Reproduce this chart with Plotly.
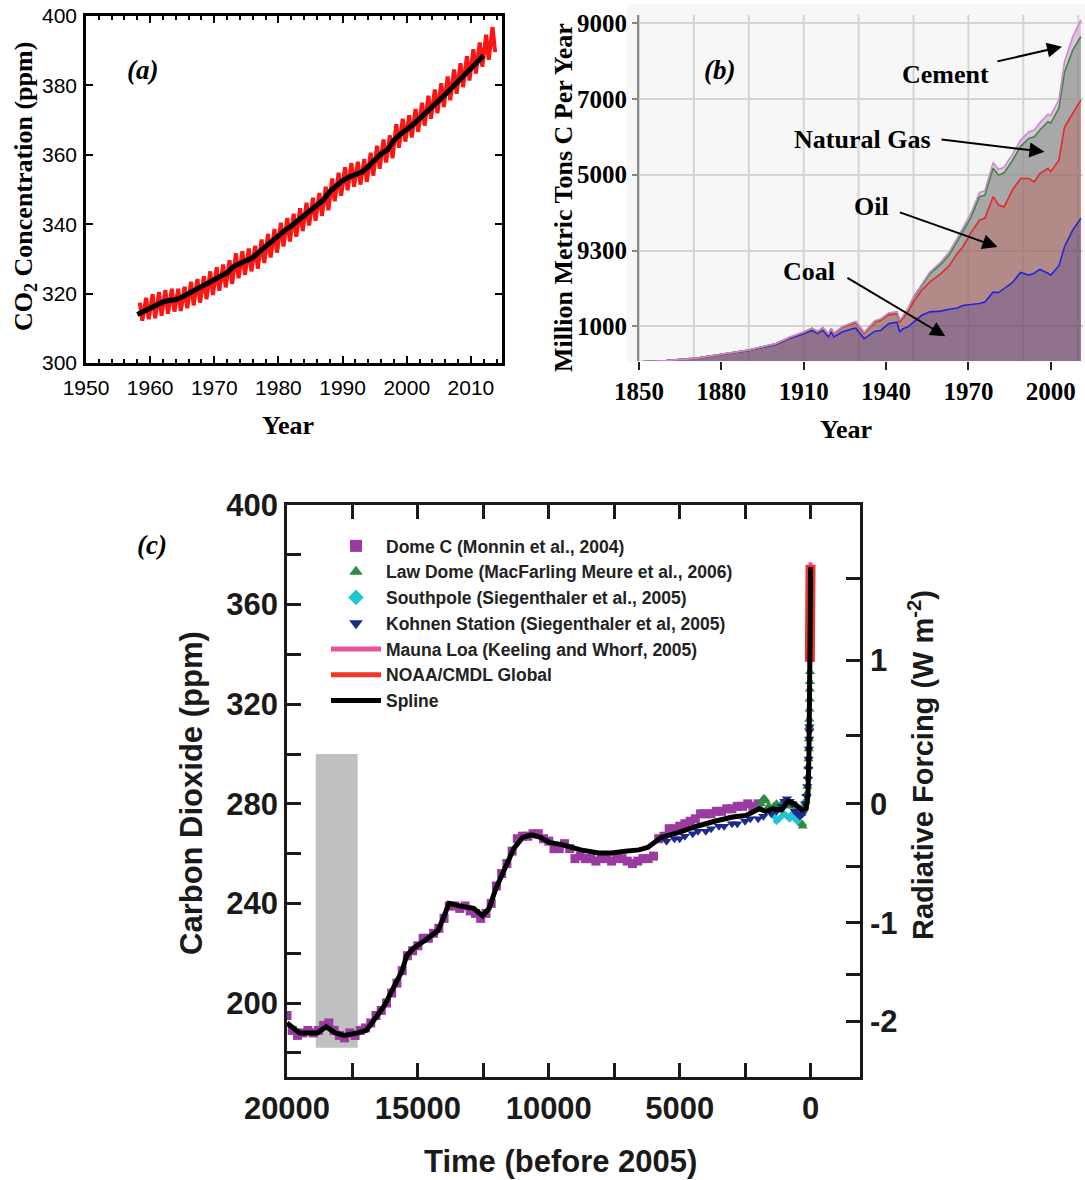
import math
import plotly.graph_objects as go

W, H = 1085, 1180

# ---------------- (a) Mauna Loa CO2 record ----------------
a_trend_years = list(range(1958, 2013))
a_trend_ppm = [314.0, 315.0, 316.0, 317.0, 317.6, 318.0, 318.3, 319.0, 320.0, 320.8,
               321.6, 322.8, 324.0, 325.0, 326.0, 327.8, 328.6, 329.5, 330.4, 332.0,
               333.6, 335.0, 336.8, 338.2, 339.5, 341.0, 342.6, 344.0, 345.4, 347.0,
               349.4, 351.0, 352.6, 353.6, 354.4, 355.0, 356.6, 358.5, 360.3, 361.4,
               364.2, 365.9, 367.1, 368.7, 370.4, 372.3, 373.9, 375.6, 377.4, 379.2,
               381.0, 382.8, 384.7, 386.6, 388.6]

a_cycle_years = list(range(1958, 2014))
a_cycle_peak = [317.4, 318.8, 319.8, 320.4, 321.0, 321.4, 321.4, 322.0, 323.4, 324.2,
                325.0, 326.4, 327.6, 328.4, 329.6, 331.6, 332.2, 333.0, 333.8, 335.6,
                337.2, 338.6, 340.4, 341.8, 343.0, 344.6, 346.2, 347.6, 349.0, 350.8,
                353.2, 354.8, 356.4, 357.6, 358.0, 358.8, 360.6, 362.6, 364.4, 365.6,
                368.8, 370.4, 371.4, 373.2, 375.0, 377.0, 378.8, 380.6, 382.6, 384.6,
                386.4, 388.4, 390.4, 392.4, 394.6, 396.8]
a_cycle_trough = [312.2, 312.6, 312.9, 313.6, 314.2, 314.8, 315.0, 315.8, 316.6, 317.4,
                  318.4, 319.6, 320.8, 321.8, 322.8, 324.4, 325.4, 326.4, 327.2, 328.8,
                  330.4, 331.8, 333.6, 335.0, 336.4, 338.0, 339.6, 341.0, 342.4, 344.0,
                  346.6, 348.2, 349.8, 350.8, 351.4, 352.2, 354.0, 356.0, 357.8, 359.0,
                  362.0, 363.8, 365.0, 366.6, 368.4, 370.4, 372.0, 373.8, 375.7, 377.6,
                  379.5, 381.4, 383.4, 385.4, 387.4, 389.6]
a_xticks = [1950, 1960, 1970, 1980, 1990, 2000, 2010]
a_yticks = [300, 320, 340, 360, 380, 400]

# ---------------- (b) fossil-fuel carbon emissions ----------------
b_years = [1850, 1860, 1870, 1880, 1890, 1900, 1905, 1910, 1913, 1915, 1917, 1919,
           1920, 1921, 1924, 1928, 1929, 1932, 1936, 1938, 1941, 1944, 1945, 1946,
           1948, 1950, 1953, 1956, 1960, 1963, 1966, 1968, 1971, 1974, 1976, 1979,
           1981, 1983, 1986, 1989, 1992, 1994, 1996, 1999, 2000, 2003, 2005, 2008, 2011]
b_coal = [60, 95, 150, 250, 360, 520, 680, 800, 890, 805, 890, 720,
          850, 720, 850, 940, 950, 675, 870, 890, 1070, 1110, 850, 930,
          985, 1110, 1290, 1380, 1400, 1450, 1480, 1550, 1580, 1600, 1640, 1900,
          1890, 2000, 2150, 2420, 2350, 2400, 2500, 2400, 2350, 2600, 3100, 3540, 3850]
b_oil = [0, 0, 1, 3, 10, 20, 25, 35, 45, 45, 55, 60,
         80, 80, 110, 130, 140, 135, 240, 260, 230, 220, 260, 260,
         395, 530, 660, 790, 990, 1150, 1450, 1550, 1900, 2200, 2210, 2520,
         2310, 2150, 2440, 2480, 2550, 2410, 2530, 2770, 2730, 2790, 3150, 3080, 3120]
b_gas = [0, 0, 0, 0, 2, 5, 8, 10, 12, 12, 14, 14,
         15, 15, 20, 25, 28, 25, 30, 32, 40, 45, 45, 50,
         80, 110, 120, 220, 250, 290, 320, 400, 410, 620, 610, 750,
         790, 900, 780, 850, 1060, 1190, 1150, 1230, 1280, 1370, 1450, 1670, 1680]
b_cement = [0, 0, 0, 0, 0, 1, 2, 3, 4, 4, 4, 4,
            5, 5, 6, 8, 8, 7, 9, 10, 12, 12, 10, 12,
            15, 30, 35, 45, 60, 70, 80, 90, 100, 110, 120, 150,
            150, 150, 160, 170, 170, 180, 190, 200, 200, 230, 280, 350, 440]
b_xticks = [1850, 1880, 1910, 1940, 1970, 2000]
b_grid_years = list(range(1850, 2012, 20))
b_yticks = [1000, 3000, 5000, 7000, 9000]
b_yticktext = ["1000", "9300", "5000", "7000", "9000"]

# label text + position, and arrow tail -> head, in (b) data units
b_labels = [("Cement", 1961.6, 7658), ("Natural Gas", 1931.5, 5932),
            ("Oil", 1934.6, 4152), ("Coal", 1912.1, 2435)]
b_arrows = [(1980.0, 7984, 2004.1, 8380), (1959.7, 5932, 1997.7, 5606),
            (1944.5, 4020, 1980.6, 3095), (1925.4, 2303, 1961.6, 736)]

# ---------------- (c) CO2 over the last 20 000 years ----------------
domec_age = [20000, 19800, 19600, 19400, 19200, 19000, 18800, 18600, 18400, 18200,
             18000, 17800, 17600, 17400, 17200, 17000, 16800, 16600, 16400, 16200,
             16000, 15800, 15600, 15400, 15200, 15000, 14800, 14600, 14400, 14200,
             14000, 13800, 13600, 13400, 13200, 13000, 12800, 12600, 12400, 12200,
             12000, 11800, 11600, 11400, 11200, 11000, 10800, 10600, 10400, 10200,
             10000, 9800, 9600, 9400, 9200, 9000, 8800, 8600, 8400, 8200,
             8000, 7800, 7600, 7400, 7200, 7000, 6800, 6600, 6400, 6200,
             6000, 5800, 5600, 5400, 5200, 5000, 4800, 4600, 4400, 4200,
             4000, 3800, 3600, 3400, 3200, 3000, 2800, 2600, 2400, 2200, 2000]
domec_ppm = [195, 189, 187, 188, 189, 188, 189, 191, 192, 189,
             187, 186, 188, 187, 189, 190, 192, 195, 197, 200,
             204, 208, 213, 219, 221, 223, 226, 226, 228, 230,
             234, 239, 239, 238, 239, 237, 236, 234, 236, 240,
             247, 252, 256, 261, 266, 267, 267, 268, 268, 266,
             265, 262, 262, 264, 262, 258, 259, 258, 258, 257,
             258, 258, 257, 258, 258, 257, 256, 257, 258, 258,
             259, 266, 267, 270, 270, 271, 272, 273, 274, 276,
             276, 276, 277, 277, 278, 278, 279, 279, 280, 279, 280]

lawdome_age = [2000, 1900, 1800, 1750, 1700, 1600, 1500, 1400, 1300, 1200,
               1100, 1000, 900, 800, 700, 600, 500, 400, 350, 320,
               300, 250, 200, 150, 120, 100, 90, 80, 70, 60,
               50, 45, 40, 35, 30, 25, 20]
lawdome_ppm = [278, 280, 282, 282, 281, 279, 278, 279, 280, 278,
               280, 281, 280, 279, 280, 279, 278, 278, 276, 272,
               271, 279, 281, 284, 287, 291, 295, 298, 302, 306,
               311, 314, 318, 322, 326, 329, 333]

southpole_age = [1400, 1300, 1200, 1100, 1000, 900, 800, 700, 600, 500, 400]
southpole_ppm = [275, 273, 274, 275, 276, 275, 274, 276, 274, 273, 275]

kohnen_age = [5500, 5200, 5000, 4800, 4500, 4300, 4000, 3800, 3500, 3300,
              3000, 2800, 2500, 2300, 2000, 1800, 1500, 1300, 1100, 1000,
              900, 800, 700, 600, 500, 400, 300, 200, 150, 120,
              100, 80, 70, 60, 50, 45, 40]
kohnen_ppm = [265, 266, 266, 267, 268, 269, 269, 270, 271, 271,
              272, 272, 273, 274, 274, 275, 276, 277, 279, 281,
              282, 281, 280, 277, 276, 275, 276, 280, 283, 287,
              290, 294, 298, 302, 306, 309, 311]

maunaloa_age = [47, 45, 40, 35, 30, 25, 20, 15, 10, 5, 0]
maunaloa_ppm = [315, 316, 320, 324, 329, 337, 343, 350, 357, 365, 377]

noaa_age = [26, 22, 18, 14, 10, 6, 3, 0]
noaa_ppm = [337, 341, 346, 352, 358, 364, 369, 376]

spline_age = [20000, 19520, 18840, 18500, 18160, 17820, 17300, 16970, 16620, 16280,
              15940, 15600, 15430, 15170, 14750, 14240, 14070, 13810, 13390, 12870,
              12530, 12280, 12020, 11680, 11340, 11000, 10660, 10320, 9980, 9460,
              8780, 8100, 7590, 7080, 6560, 6220, 5710, 5030, 4350, 3660,
              2980, 2470, 1960, 1710, 1450, 1110, 860, 600, 340, 170,
              100, 60, 40, 25, 10, 0]
spline_ppm = [192, 188, 188, 190.5, 188, 187, 188, 189, 194, 199,
              206, 213, 219, 222, 225, 229, 233, 240, 239, 238,
              235, 238, 246, 254, 262, 266.5, 267.5, 266.5, 264.5, 263.5,
              261.5, 260.3, 260.3, 261, 261.5, 262.5, 266.5, 268.5, 271, 273,
              274.7, 275.3, 278, 277, 278, 277.5, 281, 280, 277.5, 278,
              283, 300, 312, 332, 355, 375]

c_xticks = [20000, 15000, 10000, 5000, 0]
c_xticktext = ["20000", "15000", "10000", "5000", "0"]
c_yticks = [200, 240, 280, 320, 360, 400]
rf_ticks = [-2, -1.5, -1, -0.5, 0, 0.5, 1, 1.5]
rf_ref_ppm = 280.0          # pre-industrial reference concentration
rf_coeff = 5.35             # simplified CO2 forcing coefficient (W m-2)
lgm_band = (18900, 17300, 182, 300)   # shaded glacial-maximum interval

# ---------------------------------------------------------------
SERIF = "Liberation Serif, Times New Roman, serif"
SANS = "Liberation Sans, Arial, Helvetica, sans-serif"


def px_x(v):
    return v / W


def px_y(v):
    return 1 - v / H


fig = go.Figure()

# ---- (a) traces
red_x, red_y = [], []
for yr, pk, tr in zip(a_cycle_years, a_cycle_peak, a_cycle_trough):
    red_x += [yr + 0.38, yr + 0.78]
    red_y += [pk, tr]
fig.add_trace(go.Scatter(x=red_x, y=red_y, mode="lines",
                         line=dict(color="#ff1414", width=4),
                         xaxis="x", yaxis="y", showlegend=False))
fig.add_trace(go.Scatter(x=a_trend_years, y=a_trend_ppm, mode="lines",
                         line=dict(color="#000000", width=5),
                         xaxis="x", yaxis="y", showlegend=False))

# ---- (b) stacked emissions
b_series = [
    ("Coal", b_coal, "#2424dd", "rgba(110,70,105,0.75)"),
    ("Oil", b_oil, "#e22a2a", "rgba(155,103,100,0.75)"),
    ("Natural Gas", b_gas, "#3b8a3b", "rgba(142,142,142,0.75)"),
    ("Cement", b_cement, "#cc88cc", "rgba(211,179,216,0.75)"),
]
for name, vals, lc, fc in b_series:
    fig.add_trace(go.Scatter(x=b_years, y=vals, name=name, mode="lines",
                             stackgroup="b", line=dict(color=lc, width=1.6),
                             fillcolor=fc, xaxis="x2", yaxis="y2",
                             showlegend=False))

# ---- (c) ice-core and instrumental records
c_common = dict(xaxis="x3", yaxis="y3")
fig.add_trace(go.Scatter(x=domec_age, y=domec_ppm, mode="markers",
                         name="Dome C (Monnin et al., 2004)",
                         marker=dict(symbol="square", size=9, color="#9b3aa0"),
                         legendgroup="g1", **c_common))
fig.add_trace(go.Scatter(x=lawdome_age, y=lawdome_ppm, mode="markers",
                         name="Law Dome (MacFarling Meure et al., 2006)",
                         marker=dict(symbol="triangle-up", size=9, color="#2e8b44"),
                         legendgroup="g2", **c_common))
fig.add_trace(go.Scatter(x=southpole_age, y=southpole_ppm, mode="markers",
                         name="Southpole (Siegenthaler et al., 2005)",
                         marker=dict(symbol="diamond", size=6, color="#22c4d4"),
                         legendgroup="g3", **c_common))
fig.add_trace(go.Scatter(x=kohnen_age, y=kohnen_ppm, mode="markers",
                         name="Kohnen Station (Siegenthaler et al, 2005)",
                         marker=dict(symbol="triangle-down", size=9, color="#1c2a8c"),
                         legendgroup="g4", **c_common))
fig.add_trace(go.Scatter(x=maunaloa_age, y=maunaloa_ppm, mode="lines",
                         name="Mauna Loa (Keeling and Whorf, 2005)",
                         line=dict(color="#e8549c", width=4),
                         legendgroup="g5", **c_common))
fig.add_trace(go.Scatter(x=noaa_age, y=noaa_ppm, mode="lines",
                         name="NOAA/CMDL Global",
                         line=dict(color="#f2352a", width=10),
                         legendgroup="g6", **c_common))
fig.add_trace(go.Scatter(x=spline_age, y=spline_ppm, mode="lines",
                         name="Spline", line=dict(color="#000000", width=5),
                         legendgroup="g7", xaxis="x3", yaxis="y4"))

# ---- shapes
shapes = [
    # light panel background behind (b)
    dict(type="rect", xref="paper", yref="paper",
         x0=px_x(627), x1=1.0, y0=px_y(362), y1=px_y(4),
         fillcolor="#f7f7f7", line=dict(width=0), layer="below"),
    dict(type="rect", xref="x3", yref="y3",
         x0=lgm_band[0], x1=lgm_band[1], y0=lgm_band[2], y1=lgm_band[3],
         fillcolor="#c0c0c0", line=dict(width=0), layer="below"),
]
for yr in b_grid_years:
    shapes.append(dict(type="line", xref="x2", yref="y2 domain", x0=yr, x1=yr,
                       y0=0, y1=1, line=dict(color="#d4d4d4", width=2),
                       layer="below"))


def label(text, x, y, font, xref="paper", yref="paper", angle=0):
    return dict(text=text, x=x, y=y, xref=xref, yref=yref, textangle=angle,
                showarrow=False, xanchor="center", yanchor="middle", font=font)


serif26 = dict(family=SERIF, size=26, weight="bold", color="#000")
serif27i = dict(family=SERIF, size=27, weight="bold", style="italic", color="#000")
sans31 = dict(family=SANS, size=31, weight="bold", color="#1a1a1a")

ann = []
# (a) labels
ann.append(label("(a)", 1958.75, 384.4, serif27i, "x", "y"))
ann.append(label("CO<sub>2</sub> Concentration (ppm)", px_x(25), px_y(187), serif26, angle=-90))
ann.append(label("Year", px_x(288), px_y(426), serif26))
# (b) labels
ann.append(label("(b)", 1879.2, 7764, serif27i, "x2", "y2"))
ann.append(label("Million Metric Tons C Per Year", px_x(563), px_y(198), serif26, angle=-90))
ann.append(label("Year", px_x(846), px_y(430), serif26))
for txt, lx, ly in b_labels:
    ann.append(label(txt, lx, ly, serif26, "x2", "y2"))
for tx, ty, hx, hy in b_arrows:
    ann.append(dict(text="", x=hx, y=hy, ax=tx, ay=ty, xref="x2", yref="y2",
                    axref="x2", ayref="y2", showarrow=True, arrowhead=2,
                    arrowsize=1.5, arrowwidth=2, arrowcolor="#000",
                    standoff=0, startstandoff=0))
# (c) labels
ann.append(label("(c)", px_x(152), px_y(545), serif27i))
ann.append(label("Carbon Dioxide (ppm)", px_x(191), px_y(793), sans31, angle=-90))
ann.append(label("Time (before 2005)", px_x(560), px_y(1161), sans31))
ann.append(label("Radiative Forcing (W m<sup>-2</sup>)", px_x(921), px_y(765),
                 dict(family=SANS, size=29, weight="bold", color="#1a1a1a"), angle=-90))

rf_tickvals = [rf_ref_ppm * math.exp(r / rf_coeff) for r in rf_ticks]
rf_ticktext = [("%d" % r) if float(r).is_integer() else "" for r in rf_ticks]

tick_a = dict(family=SANS, size=21, color="#000")
tick_b = dict(family=SERIF, size=25, weight="bold", color="#000")
tick_c = dict(family=SANS, size=31, weight="bold", color="#1a1a1a")

fig.update_layout(
    template="none",
    width=W, height=H,
    margin=dict(l=0, r=0, t=0, b=0, pad=0, autoexpand=False),
    paper_bgcolor="white",
    plot_bgcolor="rgba(0,0,0,0)",
    font=dict(family=SANS, color="#000"),
    hovermode=False,
    shapes=shapes,
    annotations=ann,
    # (a)
    xaxis=dict(domain=[px_x(86), px_x(502)], range=[1950, 2014.85], anchor="y",
               tickvals=a_xticks, ticks="inside", ticklen=7, tickwidth=2,
               minor=dict(dtick=2, tick0=1950, ticks="inside", ticklen=4, tickwidth=1.5,
                          tickcolor="#000"),
               showline=True, linewidth=2.5, linecolor="#000", mirror="ticks",
               showgrid=False, zeroline=False, tickfont=tick_a, tickcolor="#000",
               ticklabelstandoff=4, automargin=False),
    yaxis=dict(domain=[px_y(363), px_y(16)], range=[300, 400], anchor="x",
               tickvals=a_yticks, ticks="inside", ticklen=7, tickwidth=2,
               showline=True, linewidth=2.5, linecolor="#000", mirror="ticks",
               showgrid=False, zeroline=False, tickfont=tick_a, tickcolor="#000",
               ticklabelstandoff=2, automargin=False),
    # (b)
    xaxis2=dict(domain=[px_x(639), px_x(1083)], range=[1850, 2011.75], anchor="y2",
                tickvals=b_xticks, ticks="outside", ticklen=8, tickwidth=2,
                tickcolor="#222", showline=False, showgrid=False, zeroline=False,
                tickfont=tick_b, ticklabelstandoff=0, automargin=False),
    yaxis2=dict(domain=[px_y(361), px_y(15)], range=[83, 9217], anchor="x2",
                tickvals=b_yticks, ticktext=b_yticktext, ticks="outside", ticklen=5,
                tickwidth=2, tickcolor="#888", showline=True, linewidth=2,
                linecolor="#8a8a8a", showgrid=True, gridcolor="#d4d4d4", gridwidth=2,
                zeroline=False, tickfont=tick_b, ticklabelstandoff=0, automargin=False),
    # (c)
    xaxis3=dict(domain=[px_x(287), px_x(860)], range=[20000, -1890], anchor="y3",
                tickvals=c_xticks, ticktext=c_xticktext, ticks="inside", ticklen=14,
                tickwidth=2.5, tickcolor="#1a1a1a",
                minor=dict(dtick=2500, tick0=0, ticks="inside", ticklen=14,
                           tickwidth=2.5, tickcolor="#1a1a1a"),
                showline=True, linewidth=2.5, linecolor="#1a1a1a", mirror="ticks",
                showgrid=False, zeroline=False, tickfont=tick_c, ticklabelstandoff=2,
                automargin=False),
    yaxis3=dict(domain=[px_y(1077), px_y(505)], range=[170.3, 400], anchor="x3",
                tickvals=c_yticks, ticks="inside", ticklen=14, tickwidth=2.5,
                tickcolor="#1a1a1a",
                minor=dict(dtick=20, tick0=0, ticks="inside", ticklen=14,
                           tickwidth=2.5, tickcolor="#1a1a1a"),
                showline=True, linewidth=2.5, linecolor="#1a1a1a",
                showgrid=False, zeroline=False, tickfont=tick_c, ticklabelstandoff=0,
                automargin=False),
    yaxis4=dict(overlaying="y3", side="right", anchor="x3", range=[170.3, 400],
                tickvals=rf_tickvals, ticktext=rf_ticktext, ticks="inside", ticklen=14,
                tickwidth=2.5, tickcolor="#1a1a1a", showline=True, linewidth=2.5,
                linecolor="#1a1a1a", showgrid=False, zeroline=False,
                tickfont=tick_c, ticklabelstandoff=1, automargin=False),
    legend=dict(x=px_x(326), y=px_y(528), xanchor="left", yanchor="top",
                bgcolor="rgba(0,0,0,0)", borderwidth=0, itemwidth=50,
                tracegroupgap=0, itemsizing="constant",
                font=dict(family=SANS, size=17.5, weight="bold", color="#222")),
)

fig.write_html("out.html")
